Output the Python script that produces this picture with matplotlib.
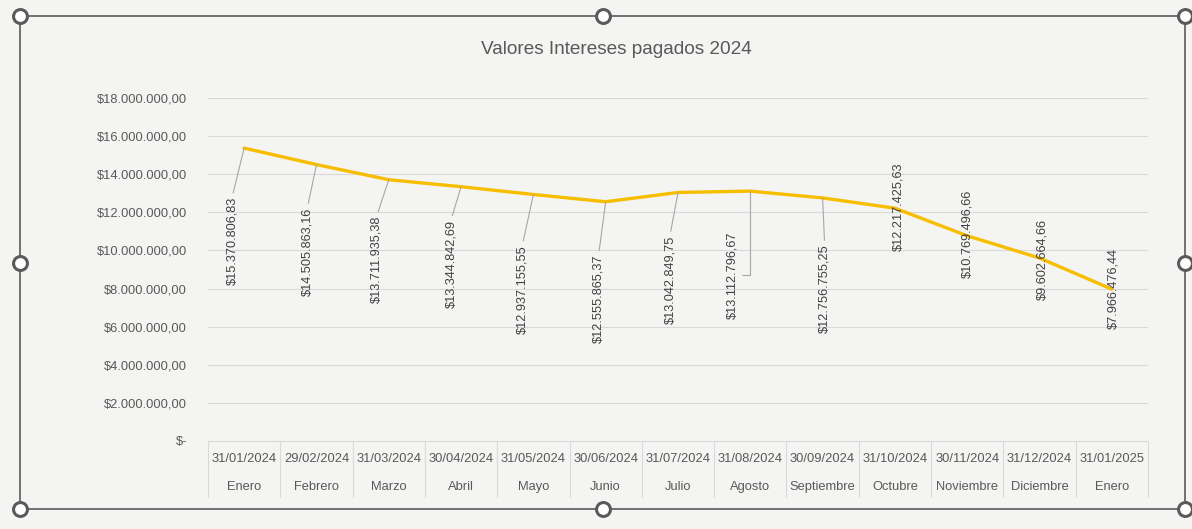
import matplotlib
matplotlib.use("Agg")
import matplotlib.pyplot as plt
from matplotlib.patches import Circle, Rectangle
from matplotlib.transforms import blended_transform_factory

# ---------------- data ----------------
fechas = ["31/01/2024", "29/02/2024", "31/03/2024", "30/04/2024", "31/05/2024",
          "30/06/2024", "31/07/2024", "31/08/2024", "30/09/2024", "31/10/2024",
          "30/11/2024", "31/12/2024", "31/01/2025"]
meses = ["Enero", "Febrero", "Marzo", "Abril", "Mayo", "Junio", "Julio",
         "Agosto", "Septiembre", "Octubre", "Noviembre", "Diciembre", "Enero"]
valores = [15370806.83, 14505863.16, 13711935.38, 13344842.69, 12937155.55,
           12555865.37, 13042849.75, 13112796.67, 12756755.25, 12217425.63,
           10769496.66, 9602664.66, 7966476.44]
y_ticks = [0, 2e6, 4e6, 6e6, 8e6, 10e6, 12e6, 14e6, 16e6, 18e6]
titulo = "Valores Intereses pagados 2024"

# label offsets (pixels) relative to each point, and leader style
label_dx = [-12, -9, -12, -10, -11, -7, -8, -18, 2, 3, 0, 3, 2]
label_dy = [-93, -87, -80, -77, -95, -97, -87, -84, -91, 1, 2, -1, 1]
leader = ["top", "top", "top", "top", "top", "top", "top", "side", "top",
          None, None, None, None]

W, H = 1192, 529
DPI = 100
FONT = "Liberation Sans"
TXT = "#595959"


def fmt_money(v):
    if v == 0:
        return "$-"
    s = f"{v:,.2f}"
    s = s.replace(",", "X").replace(".", ",").replace("X", ".")
    return "$" + s


fig = plt.figure(figsize=(W / DPI, H / DPI), dpi=DPI)
fig.patch.set_facecolor("#f4f4f3")

# axes in pixel layout
left, right, top, bottom = 208, 1148, 98, 441
ax = fig.add_axes([left / W, 1 - bottom / H, (right - left) / W, (bottom - top) / H])
ax.set_facecolor("none")

n = len(valores)
x = list(range(n))
ax.set_xlim(-0.5, n - 0.5)
ax.set_ylim(0, 18e6)

ax.plot(x, valores, color="#F7BE00", lw=2.4, solid_capstyle="round", zorder=3)

# grid
ax.set_yticks(y_ticks)
ax.set_yticklabels([fmt_money(v) for v in y_ticks], fontsize=9.3, color=TXT,
                   fontfamily=FONT)
ax.tick_params(axis="y", length=0, pad=15)
ax.grid(axis="y", color="#d9d9d9", lw=0.8, zorder=0)
ax.set_xticks([])
for s in ["left", "right", "top"]:
    ax.spines[s].set_visible(False)
ax.spines["bottom"].set_color("#d9d9d9")
ax.spines["bottom"].set_linewidth(0.8)

# multi-level category axis
trans = blended_transform_factory(ax.transData, fig.transFigure)
y_axis = 1 - bottom / H
y_sep_end = 1 - 497 / H
for i in range(n + 1):
    xs = i - 0.5
    ax.plot([xs, xs], [y_axis, y_sep_end], transform=trans, color="#d9d9d9",
            lw=0.8, clip_on=False)
for i in range(n):
    ax.text(i, 1 - 459 / H, fechas[i], transform=trans, ha="center", va="center",
            fontsize=9.3, color=TXT, fontfamily=FONT)
    ax.text(i, 1 - 487 / H, meses[i], transform=trans, ha="center", va="center",
            fontsize=9.3, color=TXT, fontfamily=FONT)

# data labels with leader lines
for i, v in enumerate(valores):
    kw = dict(textcoords="offset pixels", rotation=90, ha="center", va="center",
              fontsize=9.2, color="#404040", fontfamily=FONT, zorder=5)
    if leader[i] == "top":
        kw["arrowprops"] = dict(arrowstyle="-", color="#a6a6a6", lw=0.8,
                                shrinkA=1, shrinkB=0, relpos=(0.5, 1.0))
    elif leader[i] == "side":
        kw["arrowprops"] = dict(arrowstyle="-", color="#a6a6a6", lw=0.8,
                                shrinkA=1, shrinkB=0, relpos=(1.0, 0.5),
                                connectionstyle="angle,angleA=0,angleB=90,rad=0")
    ax.annotate(fmt_money(v), xy=(i, v), xytext=(label_dx[i], label_dy[i]), **kw)

# title
fig.text(616 / W, 1 - 49 / H, titulo, ha="center", va="center", fontsize=13.7,
         color=TXT, fontfamily=FONT)

# selection frame with handles
fx0, fx1, fy0, fy1 = 20, 1185, 16, 509
frame = Rectangle((fx0 / W, 1 - fy1 / H), (fx1 - fx0) / W, (fy1 - fy0) / H,
                  transform=fig.transFigure, fill=False, edgecolor="#5a5a5a",
                  lw=1.2, zorder=10)
fig.patches.append(frame)
xm = (fx0 + fx1) / 2
ym = (fy0 + fy1) / 2
for (px, py) in [(fx0, fy0), (xm, fy0), (fx1, fy0), (fx0, ym), (fx1, ym),
                 (fx0, fy1), (xm, fy1), (fx1, fy1)]:
    fig.add_artist(plt.Line2D([px / W], [1 - py / H], transform=fig.transFigure,
                              marker="o", markersize=10, markerfacecolor="white",
                              markeredgecolor="#5a5a5a", markeredgewidth=2.2,
                              zorder=11))

fig.savefig("out.png", dpi=DPI, facecolor=fig.get_facecolor())
